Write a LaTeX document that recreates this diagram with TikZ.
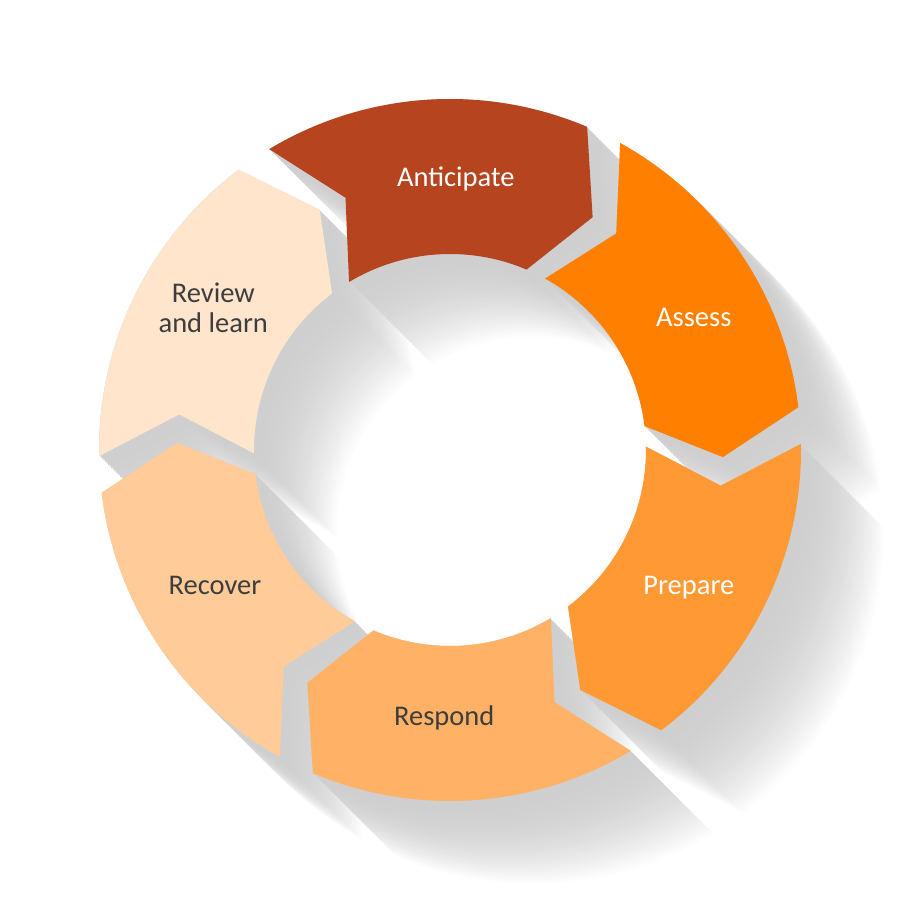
\documentclass[tikz,border=0pt]{standalone}
\usepackage{fontspec}
\setmainfont{Carlito}
\definecolor{cAnt}{HTML}{B5441F}
\definecolor{cAss}{HTML}{FF8000}
\definecolor{cPre}{HTML}{FF9933}
\definecolor{cRes}{HTML}{FFB266}
\definecolor{cRec}{HTML}{FFCC99}
\definecolor{cRev}{HTML}{FFE5CC}
\definecolor{txtdark}{HTML}{3D3D3D}
\newcommand\Ro{351}
\newcommand\Rm{273}
\newcommand\Ri{196}
% angles of one ring segment, #1 = its counter-clockwise end
\newcommand\segangles[1]{%
  \pgfmathsetmacro\segS{#1}%
  \pgfmathsetmacro\segE{#1-54}%
  \pgfmathsetmacro\segT{#1-62.5}%
  \pgfmathsetmacro\segN{#1-8.5}%
}
\newcommand\segpath{(\segS:\Ro) arc[start angle=\segS, end angle=\segE, radius=\Ro] -- (\segT:\Rm) -- (\segE:\Ri) arc[start angle=\segE, end angle=\segS, radius=\Ri] -- (\segN:\Rm) -- cycle}
\begin{document}
\begin{tikzpicture}[x=1pt,y=1pt,
  lbl/.style={font=\fontsize{28.5}{30}\selectfont, anchor=base, align=center},
  lightlbl/.style={lbl, text=white},
  darklbl/.style={lbl, text=txtdark}]
\fill[white] (-450,-451) rectangle (451,450);
\useasboundingbox (-450,-451) rectangle (451,450);
% long shadow, painted from far to near
\foreach \i in {0,...,56}{
  \pgfmathsetmacro\t{84-1.5*\i}
  \pgfmathsetmacro\k{19*(1-(\t/84)^2)}
  \foreach \s in {121,61,1,-59,-119,-179}{
    \segangles{\s}
    \fill[black!\k, shift={(\t,-\t)}] \segpath;
  }
}
% ring segments
\foreach \s/\c in {121/cAnt,61/cAss,1/cPre,-59/cRes,-119/cRec,-179/cRev}{
  \segangles{\s}
  \fill[\c] \segpath;
}
\node[lightlbl] (anticipate) at (5.8,263) {Anticipate};
\node[lightlbl] (assess) at (243.8,123) {Assess};
\node[lightlbl] (prepare) at (238.8,-144) {Prepare};
\node[darklbl] (respond) at (-5.8,-275.7) {Respond};
\node[darklbl] (recover) at (-235,-144.3) {Recover};
\node[darklbl] (review) at (-236.7,117.7) {Review\\and learn};
\end{tikzpicture}
\end{document}
